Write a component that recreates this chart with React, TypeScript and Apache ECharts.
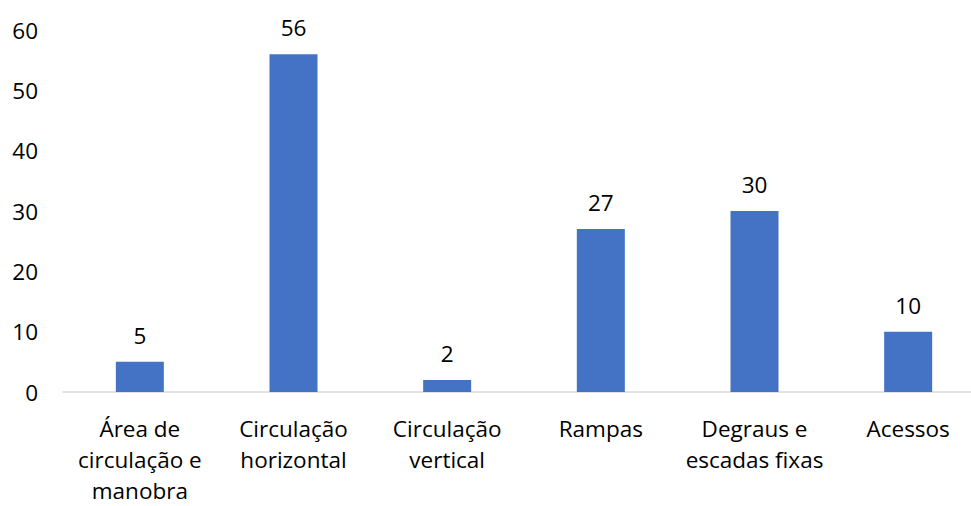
import React, { useEffect, useRef } from "react";
import * as echarts from "echarts";

const categories = [
  "Área de\ncirculação e\nmanobra",
  "Circulação\nhorizontal",
  "Circulação\nvertical",
  "Rampas",
  "Degraus e\nescadas fixas",
  "Acessos",
];
const values = [5, 56, 2, 27, 30, 10];
const yTicks = { min: 0, max: 60, interval: 10 };

export default function App() {
  const ref = useRef<HTMLDivElement>(null);
  useEffect(() => {
    if (!ref.current) return;
    const chart = echarts.init(ref.current, null, { renderer: "svg" });
    const font = "'Open Sans', sans-serif";
    const fs = 22.5;
    chart.setOption({
      animation: false,
      textStyle: { fontFamily: font },
      grid: { left: 63, top: 30, right: 5, bottom: 106, containLabel: false },
      xAxis: {
        type: "category",
        data: categories,
        axisLine: { lineStyle: { color: "#d9d9d9", width: 1.5 } },
        axisTick: { show: false },
        axisLabel: {
          color: "#000",
          fontSize: fs,
          fontFamily: font,
          lineHeight: 31,
          margin: 21,
          interval: 0,
        },
      },
      yAxis: {
        type: "value",
        min: yTicks.min,
        max: yTicks.max,
        interval: yTicks.interval,
        axisLine: { show: false },
        axisTick: { show: false },
        splitLine: { show: false },
        axisLabel: { color: "#000", fontSize: fs, fontFamily: font, margin: 25 },
      },
      series: [
        {
          type: "bar",
          data: values,
          barWidth: 48,
          itemStyle: { color: "#4472C4" },
          label: {
            show: true,
            position: "top",
            distance: 15,
            color: "#000",
            fontSize: fs,
            fontFamily: font,
          },
        },
      ],
    });
    return () => chart.dispose();
  }, []);
  return (
    <div
      style={{
        position: "fixed",
        left: 0,
        top: 0,
        width: 971,
        height: 506,
        overflow: "hidden",
        background: "#fff",
      }}
    >
      <div ref={ref} style={{ width: 990, height: 506 }} />
    </div>
  );
}
